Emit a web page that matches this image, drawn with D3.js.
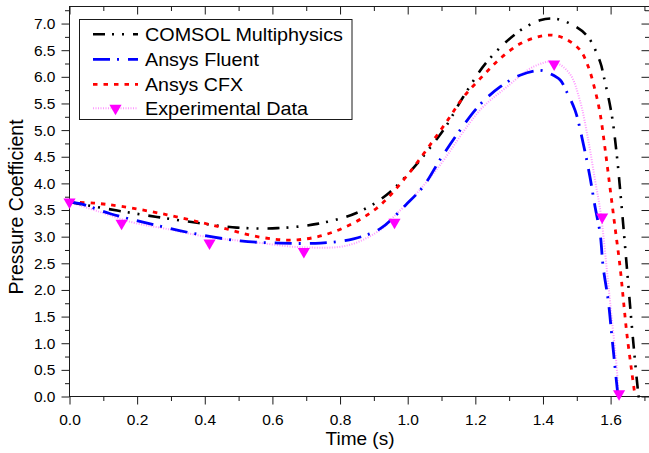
<!DOCTYPE html>
<html><head><meta charset="utf-8">
<script src="https://cdn.jsdelivr.net/npm/d3@7"></script>
<style>
body{margin:0;background:#fff}
svg{display:block}
text{font-family:Arial,"Liberation Sans",sans-serif;fill:#000}
</style></head>
<body><svg id="chart" width="649" height="453"></svg>
<script>
// ---- data ----
const seriesNames = ["COMSOL Multiphysics", "Ansys Fluent", "Ansys CFX", "Experimental Data"];

const comsolT = [0, 0.141, 0.259, 0.377, 0.495, 0.614, 0.732, 0.850, 0.948, 1.101, 1.164, 1.234, 1.326, 1.391, 1.436, 1.489, 1.533, 1.569, 1.580, 1.603, 1.618, 1.630, 1.641, 1.651, 1.661, 1.671, 1.682, 1.687];
const comsolV = [3.65, 3.49, 3.37, 3.26, 3.17, 3.16, 3.24, 3.45, 3.84, 4.96, 5.62, 6.28, 6.84, 7.06, 7.09, 6.97, 6.75, 6.28, 6.00, 5.30, 4.55, 3.75, 2.95, 2.20, 1.45, 0.75, 0.05, -0.15];

const fluentT = [0, 0.032, 0.121, 0.239, 0.367, 0.505, 0.623, 0.742, 0.840, 0.919, 0.995, 1.047, 1.096, 1.155, 1.214, 1.273, 1.332, 1.391, 1.421, 1.451, 1.470, 1.495, 1.519, 1.539, 1.554, 1.569, 1.578, 1.593, 1.603, 1.613, 1.618, 1.622];
const fluentV = [3.65, 3.62, 3.43, 3.24, 3.06, 2.92, 2.88, 2.88, 2.96, 3.15, 3.60, 3.95, 4.45, 5.00, 5.48, 5.81, 6.03, 6.12, 6.06, 5.94, 5.72, 5.37, 4.75, 4.12, 3.56, 3.06, 2.43, 1.80, 1.18, 0.55, 0.24, 0.00];

const cfxT = [0, 0.072, 0.151, 0.289, 0.426, 0.564, 0.673, 0.781, 0.899, 0.978, 1.111, 1.165, 1.224, 1.273, 1.332, 1.391, 1.431, 1.470, 1.510, 1.534, 1.554, 1.569, 1.583, 1.598, 1.613, 1.628, 1.638, 1.648, 1.662, 1.672];
const cfxV = [3.65, 3.63, 3.57, 3.41, 3.21, 2.99, 2.94, 3.09, 3.49, 3.99, 5.12, 5.62, 6.03, 6.34, 6.62, 6.76, 6.78, 6.70, 6.50, 6.19, 5.75, 5.31, 4.68, 3.93, 3.18, 2.43, 1.80, 1.18, 0.49, 0.02];

// experimental markers
const expT = [0.0, 0.154, 0.414, 0.693, 0.961, 1.433, 1.575, 1.625];
const expV = [3.65, 3.25, 2.88, 2.72, 3.27, 6.24, 3.37, 0.05];
// experimental connecting line
const expLineT = [0, 0.087, 0.185, 0.284, 0.412, 0.540, 0.692, 0.825, 0.924, 0.958, 1.022, 1.095, 1.213, 1.293, 1.372, 1.431, 1.479, 1.509, 1.534, 1.554, 1.571, 1.588, 1.603, 1.618, 1.623];
const expLineV = [3.65, 3.47, 3.27, 3.15, 2.99, 2.90, 2.80, 2.84, 3.15, 3.37, 3.78, 4.34, 5.37, 5.81, 6.19, 6.28, 6.06, 5.56, 4.81, 4.06, 3.43, 2.43, 1.49, 0.55, 0.05];

const xMajor = [0, 0.2, 0.4, 0.6, 0.8, 1.0, 1.2, 1.4, 1.6];
const xMinor = [0.1, 0.3, 0.5, 0.7, 0.9, 1.1, 1.3, 1.5, 1.7];
const yMajor = [0, 0.5, 1, 1.5, 2, 2.5, 3, 3.5, 4, 4.5, 5, 5.5, 6, 6.5, 7];
const yMinor = [0.25, 0.75, 1.25, 1.75, 2.25, 2.75, 3.25, 3.75, 4.25, 4.75, 5.25, 5.75, 6.25, 6.75, 7.25];

const xTitle = "Time (s)";
const yTitle = "Pressure Coefficient";

// ---- layout ----
const L = 69.5, R = 649.5, T = 6.5, B = 396.5;
const svg = d3.select("#chart");
const x = d3.scaleLinear().domain([0, 1.715]).range([L, R]);
const y = d3.scaleLinear().domain([0, 7.32]).range([B, T]);

const fmt = d3.format(".1f");
const axisColor = "#1a1a1a";

function styleAxis(g){
  g.select(".domain").remove();
  g.selectAll(".tick line").attr("stroke", axisColor).attr("stroke-width", 1);
  g.selectAll("text").style("font-size", "15.5px").attr("fill", "#000");
}

// bottom
svg.append("g").attr("transform", `translate(0,${B})`)
  .call(d3.axisBottom(x).tickValues(xMajor).tickFormat(fmt).tickSizeInner(8).tickSizeOuter(0).tickPadding(9))
  .call(styleAxis);
svg.append("g").attr("transform", `translate(0,${B})`)
  .call(d3.axisBottom(x).tickValues(xMinor).tickFormat("").tickSizeInner(4.5).tickSizeOuter(0))
  .call(styleAxis);
// top (inward)
svg.append("g").attr("transform", `translate(0,${T})`)
  .call(d3.axisTop(x).tickValues(xMajor).tickFormat("").tickSizeInner(-8).tickSizeOuter(0))
  .call(styleAxis);
svg.append("g").attr("transform", `translate(0,${T})`)
  .call(d3.axisTop(x).tickValues(xMinor).tickFormat("").tickSizeInner(-4.5).tickSizeOuter(0))
  .call(styleAxis);
// left
svg.append("g").attr("transform", `translate(${L},0)`)
  .call(d3.axisLeft(y).tickValues(yMajor).tickFormat(fmt).tickSizeInner(8).tickSizeOuter(0).tickPadding(6))
  .call(styleAxis);
svg.append("g").attr("transform", `translate(${L},0)`)
  .call(d3.axisLeft(y).tickValues(yMinor).tickFormat("").tickSizeInner(4.5).tickSizeOuter(0))
  .call(styleAxis);
// right (inward)
svg.append("g").attr("transform", `translate(${R},0)`)
  .call(d3.axisRight(y).tickValues(yMajor).tickFormat("").tickSizeInner(-8).tickSizeOuter(0))
  .call(styleAxis);
svg.append("g").attr("transform", `translate(${R},0)`)
  .call(d3.axisRight(y).tickValues(yMinor).tickFormat("").tickSizeInner(-4.5).tickSizeOuter(0))
  .call(styleAxis);

// frame
svg.append("rect").attr("x", L).attr("y", T).attr("width", R - L).attr("height", B - T)
  .attr("fill", "none").attr("stroke", axisColor).attr("stroke-width", 1);

// titles
svg.append("text").attr("x", 360).attr("y", 445).attr("text-anchor", "middle")
  .style("font-size", "19px").text(xTitle);
svg.append("text").attr("transform", "translate(22.5,207) rotate(-90)").attr("text-anchor", "middle")
  .style("font-size", "19.5px").text(yTitle);

// ---- series ----
const styles = [
  {t: comsolT, v: comsolV, color: "#000000", width: 2.6, dash: "12,7,2,8,2,9"},
  {t: fluentT, v: fluentV, color: "#0000ff", width: 2.8, dash: "17,7,2,9"},
  {t: cfxT, v: cfxV, color: "#ff0000", width: 2.8, dash: "4.5,6"},
  {t: expLineT, v: expLineV, color: "#ff99ff", width: 2, dash: "1,1.5"}
];

const line = d3.line().x(d => x(d[0])).y(d => y(d[1])).curve(d3.curveCatmullRom.alpha(0.5));

// draw experimental line first (underneath)
const drawOrder = [3, 0, 2, 1];
drawOrder.forEach(i => {
  const s = styles[i];
  const pts = s.t.map((t, k) => [t, s.v[k]]);
  svg.append("path").datum(pts).attr("d", line)
    .attr("fill", "none").attr("stroke", s.color).attr("stroke-width", s.width)
    .attr("stroke-dasharray", s.dash).attr("stroke-linecap", "butt");
});

const tri = d3.symbol().type(d3.symbolTriangle).size(64);
svg.append("g").selectAll("path").data(expT.map((t, k) => [t, expV[k]])).join("path")
  .attr("d", tri)
  .attr("transform", d => `translate(${x(d[0])},${y(d[1])}) rotate(180)`)
  .attr("fill", "#ff00ff");

// ---- legend ----
const lg = svg.append("g");
lg.append("rect").attr("x", 79.5).attr("y", 19.5).attr("width", 272.5).attr("height", 100)
  .attr("fill", "#fff").attr("stroke", axisColor).attr("stroke-width", 1);
const rowY = [34.3, 59.3, 84.3, 108.3];
const legendTextWidth = [198, 114, 98, 163];
seriesNames.forEach((name, i) => {
  const s = styles[i];
  lg.append("line").attr("x1", 93).attr("x2", 138).attr("y1", rowY[i]).attr("y2", rowY[i])
    .attr("stroke", s.color).attr("stroke-width", s.width).attr("stroke-dasharray", s.dash);
  lg.append("text").attr("x", 145).attr("y", rowY[i] + 6.6).style("font-size", "18.5px")
    .attr("textLength", legendTextWidth[i]).attr("lengthAdjust", "spacingAndGlyphs").text(name);
});
lg.append("path").attr("d", tri).attr("transform", `translate(115.5,${rowY[3]}) rotate(180)`).attr("fill", "#ff00ff");
</script>
</body></html>
